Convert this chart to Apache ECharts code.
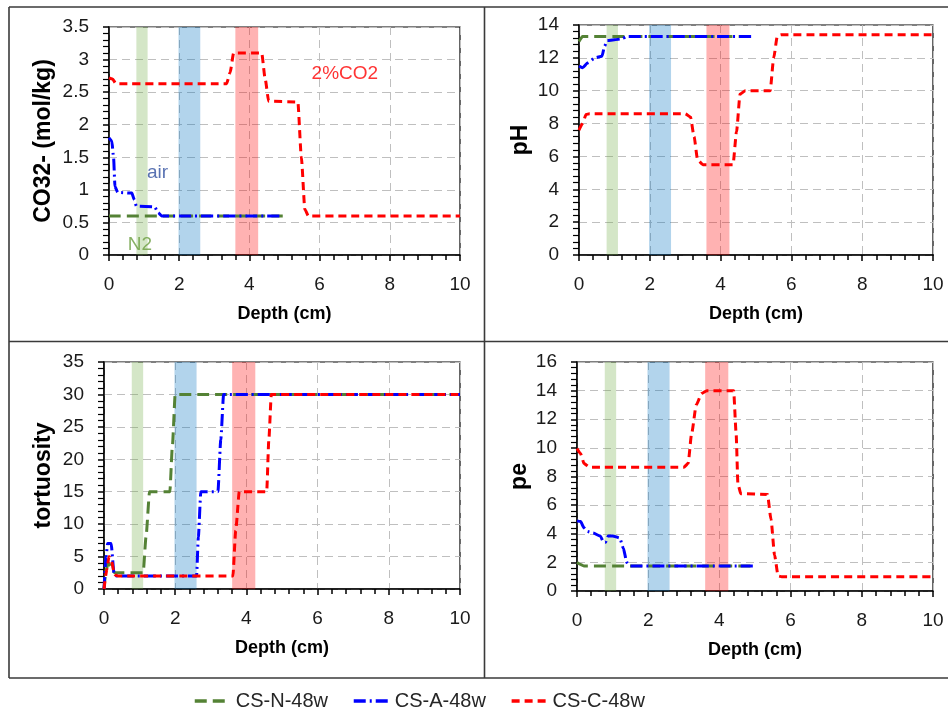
<!DOCTYPE html>
<html>
<head>
<meta charset="utf-8">
<script src="https://cdn.jsdelivr.net/npm/echarts@6/dist/echarts.min.js"></script>
<style>
html,body{margin:0;padding:0;background:#fff;}
#c{width:948px;height:713px;}
</style>
</head>
<body>
<div id="c"></div>
<script>
// ---- data ----
const seriesNames = ['CS-N-48w', 'CS-A-48w', 'CS-C-48w'];
const xTicks = [0, 2, 4, 6, 8, 10];

// CO32- (mol/kg)
const co3_N = [[0,0.6],[4.95,0.6]];
const co3_A = [[0,1.8],[0.08,1.75],[0.13,1.5],[0.17,1.05],[0.25,0.96],[0.65,0.95],[0.72,0.85],[0.78,0.75],[1.3,0.74],[1.4,0.65],[1.5,0.6],[4.95,0.6]];
const co3_C = [[0,2.72],[0.1,2.7],[0.2,2.63],[3.35,2.63],[3.45,2.8],[3.55,3.1],[4.35,3.1],[4.45,2.7],[4.55,2.36],[5.38,2.35],[5.48,1.5],[5.58,0.7],[5.68,0.6],[10,0.6]];

// pH
const ph_N = [[0,13.0],[0.1,13.3],[4.95,13.3]];
const ph_A = [[0,11.5],[0.1,11.4],[0.25,11.7],[0.45,12.0],[0.65,12.1],[0.72,12.7],[0.8,13.05],[1.0,13.1],[1.2,13.15],[1.35,13.3],[4.95,13.3]];
const ph_C = [[0,7.6],[0.1,8.0],[0.2,8.55],[0.3,8.6],[3.0,8.6],[3.15,8.4],[3.25,7.2],[3.35,5.8],[3.5,5.5],[4.35,5.5],[4.45,7.5],[4.55,9.8],[4.7,10.0],[5.4,10.0],[5.5,12.0],[5.6,13.3],[5.7,13.4],[10,13.4]];

// tortuosity
const tor_N = [[0,0],[0.06,3],[0.12,4],[0.2,3.5],[0.3,2.5],[1.1,2.5],[1.18,8],[1.28,15],[1.85,15],[1.92,22],[2.0,30],[10,30]];
const tor_A = [[0,0],[0.06,5],[0.1,7],[0.2,7],[0.28,2.5],[0.35,2.0],[2.6,2.0],[2.65,8],[2.72,15],[3.2,15],[3.28,23],[3.36,30],[10,30]];
const tor_C = [[0,0],[0.08,3],[0.14,5],[0.2,4.5],[0.3,2.2],[0.4,2.0],[3.62,2.0],[3.7,9],[3.8,15],[4.57,15],[4.63,23],[4.7,30],[10,30]];

// pe
const pe_N = [[0,2.0],[0.1,1.85],[0.2,1.75],[4.95,1.75]];
const pe_A = [[0,4.9],[0.1,4.85],[0.2,4.4],[0.3,4.15],[0.45,4.05],[0.65,3.85],[0.75,3.4],[0.8,3.4],[0.88,3.85],[1.0,3.85],[1.2,3.7],[1.3,3.0],[1.4,2.0],[1.5,1.75],[4.95,1.75]];
const pe_C = [[0,9.95],[0.1,9.6],[0.2,8.9],[0.35,8.65],[3.0,8.65],[3.12,8.9],[3.22,11.0],[3.35,13.0],[3.5,13.8],[3.65,14.0],[4.4,14.0],[4.47,11],[4.52,7.5],[4.6,6.8],[5.35,6.75],[5.45,5],[5.55,2.5],[5.65,1.05],[5.75,1.0],[10,1.0]];

// shaded depth bands [from, to]
const bandN = [0.78, 1.1];
const bandA = [1.98, 2.6];
const bandC = [3.6, 4.25];

// y axes
const yNames = ['CO32- (mol/kg)', 'pH', 'tortuosity', 'pe'];
const yMax = [3.5, 14, 35, 16];
const yInterval = [0.5, 2, 5, 2];

// annotations in panel 1 [text, x, y]
const notes = [['2%CO2', 6.72, 2.78], ['air', 1.38, 1.27], ['N2', 0.88, 0.15]];

// ---- chart ----
const FONT = '"Liberation Sans", Arial, sans-serif';
const colors = ['#548235', '#0000ff', '#ff0000'];
const dashes = [[12, 6], [12, 4, 2, 4], [8, 5]];
const panelData = [[co3_N, co3_A, co3_C], [ph_N, ph_A, ph_C], [tor_N, tor_A, tor_C], [pe_N, pe_A, pe_C]];
const grids = [
  {left: 109, top: 27, width: 351, height: 228},
  {left: 579, top: 25, width: 354, height: 230},
  {left: 104, top: 362, width: 356, height: 227},
  {left: 577, top: 362, width: 356, height: 229}
];
const nameGaps = [54, 47, 49, 46];

const gridDash = {type: [8, 5], color: '#bfbfbf', width: 1};

const option = {
  animation: false,
  backgroundColor: '#fff',
  textStyle: {fontFamily: FONT},
  grid: grids.map(g => Object.assign({show: true, borderColor: '#000', borderWidth: 1.2, backgroundColor: 'transparent'}, g)),
  xAxis: grids.map((g, i) => ({
    type: 'value', gridIndex: i, min: xTicks[0], max: xTicks[xTicks.length - 1], interval: 2,
    name: 'Depth (cm)', nameLocation: 'middle', nameGap: 50,
    nameTextStyle: {fontFamily: FONT, fontSize: 18, fontWeight: 'bold', color: '#000'},
    axisLine: {show: true, onZero: false, lineStyle: {color: '#000', width: 1.5}},
    axisTick: {show: true, length: 6, lineStyle: {color: '#000', width: 1.5}},
    minorTick: {show: true, splitNumber: 5, length: 5, lineStyle: {color: '#000', width: 1.5}},
    axisLabel: {fontFamily: FONT, fontSize: 19, color: '#1a1a1a', margin: 20},
    splitLine: {show: true, lineStyle: gridDash}
  })),
  yAxis: grids.map((g, i) => ({
    type: 'value', gridIndex: i, min: 0, max: yMax[i], interval: yInterval[i],
    name: yNames[i], nameLocation: 'middle', nameGap: nameGaps[i],
    nameTextStyle: {fontFamily: FONT, fontSize: 23, fontWeight: 'bold', color: '#000'},
    axisLine: {show: true, onZero: false, lineStyle: {color: '#000', width: 1.5}},
    axisTick: {show: true, length: 6, lineStyle: {color: '#000', width: 1.5}},
    minorTick: {show: true, splitNumber: 5, length: 6, lineStyle: {color: '#000', width: 1.2}},
    axisLabel: {fontFamily: FONT, fontSize: 19, color: '#1a1a1a', margin: 20},
    splitLine: {show: true, lineStyle: gridDash}
  })),
  legend: {
    data: seriesNames,
    left: 188, top: 686,
    itemWidth: 36, itemHeight: 14, itemGap: 24,
    itemStyle: {color: 'transparent', borderWidth: 0, opacity: 0},
    lineStyle: {width: 3.5},
    textStyle: {fontFamily: FONT, fontSize: 20, color: '#262626'}
  },
  series: [],
  graphic: []
};

// band helper series
grids.forEach((g, i) => {
  option.series.push({
    type: 'line', xAxisIndex: i, yAxisIndex: i, data: [], silent: true,
    markArea: {
      silent: true,
      data: [
        [{xAxis: bandN[0], yAxis: 0, itemStyle: {color: 'rgba(112,173,71,0.3)'}}, {xAxis: bandN[1], yAxis: yMax[i]}],
        [{xAxis: bandA[0], yAxis: 0, itemStyle: {color: 'rgba(0,112,192,0.3)'}}, {xAxis: bandA[1], yAxis: yMax[i]}],
        [{xAxis: bandC[0], yAxis: 0, itemStyle: {color: 'rgba(255,0,0,0.3)'}}, {xAxis: bandC[1], yAxis: yMax[i]}]
      ]
    }
  });
});

// line series
panelData.forEach((arr, i) => {
  arr.forEach((d, k) => {
    option.series.push({
      type: 'line', name: seriesNames[k], xAxisIndex: i, yAxisIndex: i,
      data: d, showSymbol: false, symbol: 'none', smooth: 0.2, smoothMonotone: 'x',
      color: colors[k],
      lineStyle: {color: colors[k], width: 3, type: dashes[k]},
      z: 3 + k
    });
  });
});

// annotations
option.series.push({
  type: 'scatter', xAxisIndex: 0, yAxisIndex: 0, symbolSize: 0, silent: true,
  data: notes.map((n, j) => ({
    value: [n[1], n[2]],
    label: {show: true, position: 'inside', formatter: n[0], fontFamily: FONT, fontSize: 19,
      color: ['#ff0000', '#2f4f9f', '#6a9e3f'][j]}
  })),
  z: 10
});

// panel frames
const frameStyle = {stroke: '#3a3a3a', lineWidth: 1.6};
[[9, 7, 948, 7], [9, 7, 9, 678], [9, 678, 948, 678], [9, 341.5, 948, 341.5], [484.5, 7, 484.5, 678]].forEach(l => {
  option.graphic.push({type: 'line', silent: true, shape: {x1: l[0], y1: l[1], x2: l[2], y2: l[3]}, style: frameStyle});
});

const chart = echarts.init(document.getElementById('c'), null, {renderer: 'canvas'});
chart.setOption(option);
</script>
</body>
</html>
